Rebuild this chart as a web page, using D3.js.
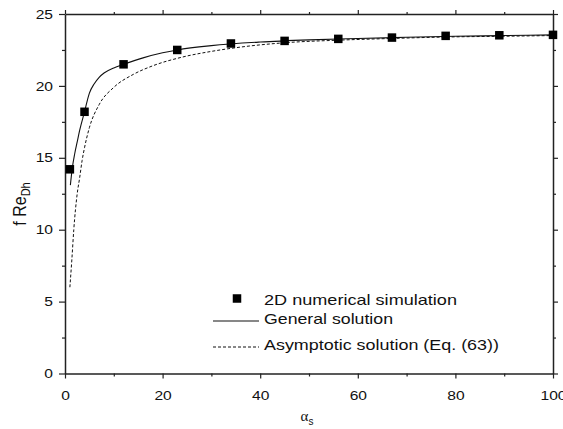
<!DOCTYPE html>
<html>
<head>
<meta charset="utf-8">
<script src="https://cdn.jsdelivr.net/npm/d3@7"></script>
<style>
  html, body { margin: 0; padding: 0; background: #fff; }
  svg { display: block; font-family: "Liberation Sans", Arial, Helvetica, sans-serif; }
</style>
</head>
<body>
<svg id="chart" width="563" height="429"></svg>
<script>
// ---- data ----
const simAlpha = [1, 4, 12, 23, 34, 45, 56, 67, 78, 89, 100];
const simF     = [14.2, 18.2, 21.5, 22.5, 22.95, 23.13, 23.27, 23.36, 23.48, 23.52, 23.55];

const genAlpha = [1.1, 1.5, 2, 2.5, 3, 4, 5, 6, 7, 8, 10, 12, 16, 20, 23, 30, 40, 50, 60, 70, 80, 90, 100];
const genF     = [13.1, 14.3, 15.3, 16.1, 16.9, 18.2, 19.5, 20.15, 20.6, 20.9, 21.25, 21.5, 21.95, 22.3, 22.5, 22.8, 23.05, 23.2, 23.3, 23.38, 23.45, 23.5, 23.55];

const asyAlpha = [1.0, 1.4, 1.8, 2.5, 3, 3.5, 4, 5, 7, 10, 14, 18, 24, 30, 36, 45, 56, 67, 78, 89, 100];
const asyF     = [6.0, 7.9, 10.0, 12.5, 13.6, 14.8, 15.7, 17.1, 18.7, 19.9, 20.8, 21.4, 22.0, 22.4, 22.7, 23.0, 23.18, 23.3, 23.4, 23.45, 23.5];

const xMajorTicks = [0, 20, 40, 60, 80, 100];
const xMinorTicks = [10, 30, 50, 70, 90];
const yMajorTicks = [0, 5, 10, 15, 20, 25];
const yMinorTicks = [2.5, 7.5, 12.5, 17.5, 22.5];

const legendLabels = ["2D numerical simulation", "General solution", "Asymptotic solution (Eq. (63))"];

// ---- layout ----
const svg = d3.select("#chart");
const L = 65, R = 553, T = 14, B = 373.5;

const x = d3.scaleLinear().domain([0, 100]).range([L, R]);
const y = d3.scaleLinear().domain([0, 25]).range([B, T]);

const axisColor = "#222";
const stretch = 1.2;

function styleAxis(g) {
  g.select(".domain").attr("stroke", axisColor).attr("stroke-width", 1.5);
  g.selectAll(".tick line").attr("stroke", axisColor).attr("stroke-width", 1.2);
  g.selectAll("text").attr("fill", "#111").attr("font-size", 13)
    .attr("font-family", '"Liberation Sans", Arial, sans-serif');
}

// bottom axis
const gx = svg.append("g").attr("transform", `translate(0,${B})`)
  .call(d3.axisBottom(x).tickValues(xMajorTicks).tickSize(5).tickPadding(12).tickSizeOuter(0));
styleAxis(gx);
gx.selectAll("text").attr("transform", `scale(${stretch},1)`);
svg.append("g").attr("transform", `translate(0,${B})`)
  .call(d3.axisBottom(x).tickValues(xMinorTicks).tickSize(3).tickFormat("").tickSizeOuter(0))
  .call(styleAxis).select(".domain").remove();

// left axis
const gy = svg.append("g").attr("transform", `translate(${L},0)`)
  .call(d3.axisLeft(y).tickValues(yMajorTicks).tickSize(6).tickPadding(4).tickSizeOuter(0));
styleAxis(gy);
gy.selectAll("text").attr("transform", `scale(${stretch},1)`);
svg.append("g").attr("transform", `translate(${L},0)`)
  .call(d3.axisLeft(y).tickValues(yMinorTicks).tickSize(3).tickFormat("").tickSizeOuter(0))
  .call(styleAxis).select(".domain").remove();

// top axis (mirror)
svg.append("g").attr("transform", `translate(0,${T})`)
  .call(d3.axisTop(x).tickValues(xMajorTicks).tickSize(4).tickFormat("").tickSizeOuter(0))
  .call(styleAxis);
svg.append("g").attr("transform", `translate(0,${T})`)
  .call(d3.axisTop(x).tickValues(xMinorTicks).tickSize(2).tickFormat("").tickSizeOuter(0))
  .call(styleAxis).select(".domain").remove();

// right axis (mirror)
svg.append("g").attr("transform", `translate(${R},0)`)
  .call(d3.axisRight(y).tickValues(yMajorTicks).tickSize(5).tickFormat("").tickSizeOuter(0))
  .call(styleAxis);
svg.append("g").attr("transform", `translate(${R},0)`)
  .call(d3.axisRight(y).tickValues(yMinorTicks).tickSize(3).tickFormat("").tickSizeOuter(0))
  .call(styleAxis).select(".domain").remove();

// ---- lines ----
const line = d3.line().x(d => x(d[0])).y(d => y(d[1])).curve(d3.curveMonotoneX);

svg.append("path")
  .datum(asyAlpha.map((a, i) => [a, asyF[i]]))
  .attr("d", line).attr("fill", "none").attr("stroke", "#111")
  .attr("stroke-width", 1).attr("stroke-dasharray", "3,2");

svg.append("path")
  .datum(genAlpha.map((a, i) => [a, genF[i]]))
  .attr("d", line).attr("fill", "none").attr("stroke", "#111").attr("stroke-width", 1.1);

// ---- squares ----
const sq = 8.5;
svg.append("g").selectAll("rect")
  .data(simAlpha.map((a, i) => [a, simF[i]]))
  .join("rect")
  .attr("x", d => x(d[0]) - sq / 2).attr("y", d => y(d[1]) - sq / 2)
  .attr("width", sq).attr("height", sq).attr("fill", "#000");

// ---- axis titles ----
const xt = svg.append("text").attr("x", 307).attr("y", 421)
  .attr("text-anchor", "middle").attr("font-size", 15).attr("fill", "#111")
  .attr("font-family", '"Liberation Serif", "Times New Roman", serif');
xt.append("tspan").text("α");
xt.append("tspan").attr("font-size", 10).attr("dy", 4)
  .attr("font-family", '"Liberation Sans", Arial, sans-serif').text("s");

const yt = svg.append("text")
  .attr("transform", `translate(26,204) scale(1.1,1) rotate(-90)`)
  .attr("text-anchor", "middle").attr("font-size", 16).attr("fill", "#111");
yt.append("tspan").text("f Re");
yt.append("tspan").attr("font-size", 11).attr("dy", 4).text("Dh");

// ---- legend ----
const lg = svg.append("g");
const legWidths = [193, 129, 235];
const legY = [305, 324, 350];
lg.append("rect").attr("x", 237 - sq / 2).attr("y", 298.5 - sq / 2)
  .attr("width", sq).attr("height", sq).attr("fill", "#000");
lg.append("line").attr("x1", 213).attr("x2", 259).attr("y1", 321).attr("y2", 321)
  .attr("stroke", "#111").attr("stroke-width", 1.1);
lg.append("line").attr("x1", 213).attr("x2", 259).attr("y1", 347).attr("y2", 347)
  .attr("stroke", "#111").attr("stroke-width", 1).attr("stroke-dasharray", "3,2");
lg.selectAll("text.leg").data(legendLabels).join("text")
  .attr("class", "leg")
  .attr("x", 264).attr("y", (d, i) => legY[i])
  .attr("font-size", 15).attr("fill", "#111")
  .attr("textLength", (d, i) => legWidths[i]).attr("lengthAdjust", "spacingAndGlyphs")
  .text(d => d);
</script>
</body>
</html>
